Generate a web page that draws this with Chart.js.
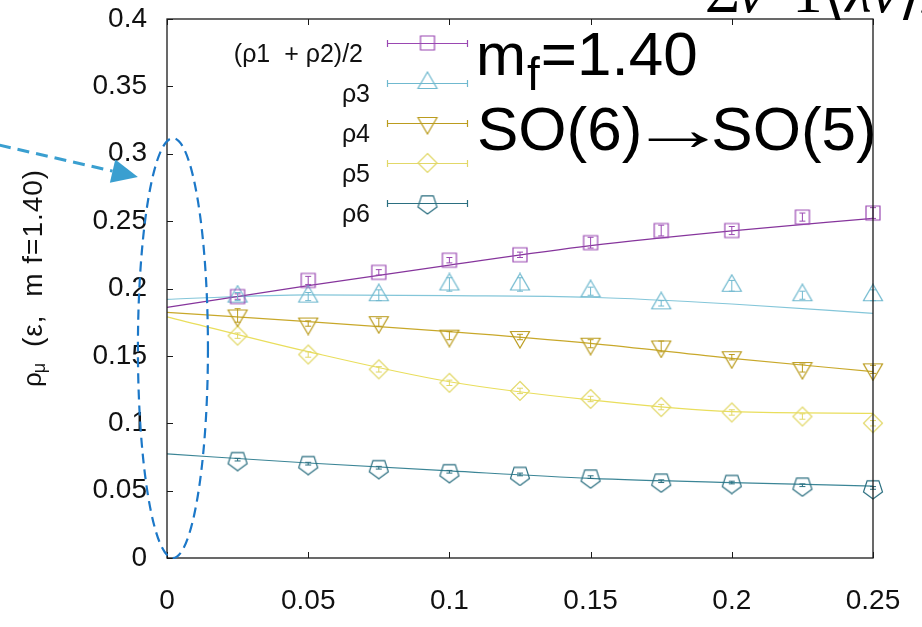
<!DOCTYPE html>
<html>
<head>
<meta charset="utf-8">
<script src="https://cdn.jsdelivr.net/npm/chart.js@4.4.1/dist/chart.umd.min.js"></script>
<style>
  html, body { margin: 0; padding: 0; background: #fff; }
  #wrap { width: 922px; height: 627px; }
</style>
</head>
<body>
<div id="wrap"><canvas id="rhoChart" width="922" height="627"></canvas></div>
<script>
// ---------- Data ----------
const EPS = [0.025, 0.05, 0.075, 0.1, 0.125, 0.15, 0.175, 0.2, 0.225, 0.25];

const RHO12 = [0.194, 0.206, 0.212, 0.221, 0.225, 0.234, 0.243, 0.243, 0.253, 0.256];
const RHO3  = [0.194, 0.194, 0.195, 0.203, 0.203, 0.198, 0.189, 0.202, 0.195, 0.195];
const RHO4  = [0.180, 0.174, 0.175, 0.165, 0.164, 0.159, 0.157, 0.149, 0.141, 0.140];
const RHO5  = [0.165, 0.151, 0.140, 0.130, 0.124, 0.118, 0.112, 0.108, 0.105, 0.100];
const RHO6  = [0.073, 0.070, 0.067, 0.064, 0.062, 0.060, 0.057, 0.056, 0.054, 0.052];

const RHO12_ERR = [0.002, 0.003, 0.002, 0.002, 0.002, 0.004, 0.004, 0.003, 0.003, 0.004];
const RHO3_ERR  = [0.003, 0.003, 0.004, 0.005, 0.005, 0.003, 0.002, 0.004, 0.003, 0.004];
const RHO4_ERR  = [0.005, 0.002, 0.003, 0.003, 0.002, 0.003, 0.004, 0.002, 0.003, 0.003];
const RHO5_ERR  = [0.002, 0.002, 0.002, 0.002, 0.002, 0.002, 0.002, 0.002, 0.002, 0.002];
const RHO6_ERR  = [0.001, 0.001, 0.001, 0.001, 0.001, 0.001, 0.001, 0.001, 0.001, 0.001];

// fitted curves sampled along eps
const FIT_EPS = [0, 0.05, 0.1, 0.15, 0.2, 0.25];
const FIT12 = [0.186, 0.2022, 0.2174, 0.2318, 0.2428, 0.2521];
const FIT3  = [0.192, 0.1952, 0.1947, 0.1935, 0.1885, 0.1816];
const FIT4  = [0.1823, 0.1754, 0.168, 0.1593, 0.1482, 0.1383];
const FIT5  = [0.179, 0.1531, 0.1308, 0.1173, 0.1086, 0.1074];
const FIT6  = [0.0772, 0.0705, 0.0646, 0.0591, 0.0559, 0.0534];

const LABELS = ['(ρ1  + ρ2)/2', 'ρ3', 'ρ4', 'ρ5', 'ρ6'];

const X_MIN = 0, X_MAX = 0.25, X_STEP = 0.05;
const Y_MIN = 0, Y_MAX = 0.4, Y_STEP = 0.05;

const FONT = '"Liberation Sans", Arial, sans-serif';

// ---------- Styles ----------
const SERIES = [
  { label: LABELS[0], pts: RHO12, err: RHO12_ERR, fit: FIT12, shape: 'square',  mark: '#9a48b2', line: '#86359c' },
  { label: LABELS[1], pts: RHO3,  err: RHO3_ERR,  fit: FIT3,  shape: 'triUp',   mark: '#70b9cf', line: '#84c6d9' },
  { label: LABELS[2], pts: RHO4,  err: RHO4_ERR,  fit: FIT4,  shape: 'triDown', mark: '#bb9c1e', line: '#c8a82a' },
  { label: LABELS[3], pts: RHO5,  err: RHO5_ERR,  fit: FIT5,  shape: 'diamond', mark: '#e2d868', line: '#e9de5c' },
  { label: LABELS[4], pts: RHO6,  err: RHO6_ERR,  fit: FIT6,  shape: 'pentagon',mark: '#2b6f80', line: '#3b8596' }
];

// open marker glyphs, drawn once and reused as pointStyle images
function makeMarker(shape, color) {
  const c = document.createElement('canvas');
  c.width = 24; c.height = 24;
  const g = c.getContext('2d');
  g.strokeStyle = color;
  g.lineWidth = 1.2;
  g.beginPath();
  const cx = 12, cy = 12;
  if (shape === 'square') {
    g.rect(cx - 7, cy - 7, 14, 14);
  } else if (shape === 'triUp' || shape === 'triDown') {
    const s = shape === 'triUp' ? 1 : -1;
    const r = 11;
    g.moveTo(cx, cy - s * r);
    g.lineTo(cx + 0.866 * r, cy + s * 0.5 * r);
    g.lineTo(cx - 0.866 * r, cy + s * 0.5 * r);
    g.closePath();
  } else if (shape === 'diamond') {
    g.moveTo(cx, cy - 9.5);
    g.lineTo(cx + 9.5, cy);
    g.lineTo(cx, cy + 9.5);
    g.lineTo(cx - 9.5, cy);
    g.closePath();
  } else if (shape === 'pentagon') {
    // flat top, vertex pointing down
    const r = 10;
    for (let k = 0; k < 5; k++) {
      const a = Math.PI / 2 + k * 2 * Math.PI / 5;
      const px = cx + r * Math.cos(a), py = cy + 1 + r * Math.sin(a);
      if (k === 0) g.moveTo(px, py); else g.lineTo(px, py);
    }
    g.closePath();
  }
  g.stroke();
  return c;
}

SERIES.forEach(s => { s.img = makeMarker(s.shape, s.mark); });

// ---------- Datasets ----------
const datasets = [];
SERIES.forEach((s, i) => {
  datasets.push({
    label: s.label + ' fit',
    data: FIT_EPS.map((x, j) => ({ x, y: s.fit[j] })),
    showLine: true,
    borderColor: s.line,
    borderWidth: 1.2,
    pointRadius: 0,
    cubicInterpolationMode: 'monotone',
    fill: false,
    clip: false,
    order: 10 + i
  });
  datasets.push({
    label: s.label,
    data: EPS.map((x, j) => ({ x, y: s.pts[j] })),
    showLine: false,
    pointStyle: s.img,
    pointRadius: 12,
    clip: false,
    errors: s.err,
    errColor: s.mark,
    order: i
  });
});

// ---------- Plugins ----------
const errorBars = {
  id: 'errorBars',
  afterDatasetsDraw(chart) {
    const { ctx, scales: { x, y } } = chart;
    ctx.save();
    ctx.lineWidth = 1;
    chart.data.datasets.forEach(ds => {
      if (!ds.errors) return;
      ctx.strokeStyle = ds.errColor;
      ds.data.forEach((p, j) => {
        const px = x.getPixelForValue(p.x);
        const y0 = y.getPixelForValue(p.y - ds.errors[j]);
        const y1 = y.getPixelForValue(p.y + ds.errors[j]);
        ctx.beginPath();
        ctx.moveTo(px, y0); ctx.lineTo(px, y1);
        ctx.moveTo(px - 3, y0); ctx.lineTo(px + 3, y0);
        ctx.moveTo(px - 3, y1); ctx.lineTo(px + 3, y1);
        ctx.stroke();
      });
    });
    ctx.restore();
  }
};

// box border with inward ticks on left, bottom and top
const frame = {
  id: 'frame',
  afterDraw(chart) {
    const { ctx, chartArea: a, scales: { x, y } } = chart;
    ctx.save();
    ctx.strokeStyle = '#1a1a1a';
    ctx.lineWidth = 1.3;
    ctx.strokeRect(a.left, a.top, a.right - a.left, a.bottom - a.top);
    ctx.lineWidth = 1;
    ctx.beginPath();
    y.ticks.forEach(t => {
      const py = Math.round(y.getPixelForValue(t.value)) + 0.5;
      ctx.moveTo(a.left, py); ctx.lineTo(a.left + 6, py);
    });
    x.ticks.forEach(t => {
      const px = Math.round(x.getPixelForValue(t.value)) + 0.5;
      ctx.moveTo(px, a.bottom); ctx.lineTo(px, a.bottom - 6);
      ctx.moveTo(px, a.top); ctx.lineTo(px, a.top + 6);
    });
    ctx.stroke();
    ctx.restore();
  }
};

// key in the upper left: label, error-bar sample line, marker
const keyBox = {
  id: 'keyBox',
  afterDraw(chart) {
    const { ctx, chartArea: a } = chart;
    ctx.save();
    const x0 = a.left + 220, x1 = a.left + 301, xm = (x0 + x1) / 2;
    SERIES.forEach((s, i) => {
      const yy = a.top + 24 + i * 40;
      ctx.strokeStyle = s.mark;
      ctx.lineWidth = 1.2;
      ctx.beginPath();
      ctx.moveTo(x0, yy + 0.5); ctx.lineTo(x1, yy + 0.5);
      ctx.moveTo(x0 + 0.5, yy - 3); ctx.lineTo(x0 + 0.5, yy + 4);
      ctx.moveTo(x1 - 0.5, yy - 3); ctx.lineTo(x1 - 0.5, yy + 4);
      ctx.stroke();
      ctx.drawImage(s.img, xm - 12, yy - 12);
      ctx.fillStyle = '#111';
      ctx.font = '25px ' + FONT;
      ctx.textAlign = 'right';
      ctx.textBaseline = 'alphabetic';
      ctx.fillText(s.label, a.left + (i === 0 ? 196 : 203), yy + 19);
    });
    ctx.restore();
  }
};

// rotated y title with subscripts
const yTitle = {
  id: 'yTitle',
  afterDraw(chart) {
    const { ctx } = chart;
    ctx.save();
    ctx.translate(42, 387);
    ctx.rotate(-Math.PI / 2);
    ctx.fillStyle = '#111';
    ctx.textBaseline = 'alphabetic';
    ctx.font = '26px ' + FONT;
    ctx.fillText('ρ', 0, -1);
    const w = ctx.measureText('ρ').width;
    ctx.font = '18px ' + FONT;
    ctx.fillText('μ', w - 1, 3);
    ctx.font = '28px ' + FONT;
    ctx.letterSpacing = '1px';
    ctx.fillText('(ε,  m f=1.40)', 40, 0);
    ctx.restore();
  }
};

// annotations: mass label, symmetry breaking, dashed ellipse at eps -> 0, arrow
const notes = {
  id: 'notes',
  afterDraw(chart) {
    const { ctx, scales: { x, y } } = chart;
    ctx.save();
    ctx.fillStyle = '#000';
    ctx.textBaseline = 'alphabetic';
    ctx.textAlign = 'left';

    ctx.font = '60px ' + FONT;
    let cx = 476;
    ctx.fillText('m', cx, 75);
    cx += ctx.measureText('m').width;
    ctx.font = '46px ' + FONT;
    ctx.fillText('f', cx + 1, 90);
    cx += ctx.measureText('f').width + 2;
    ctx.font = '62px ' + FONT;
    ctx.fillText('=1.40', cx, 75);

    // SO(6) -> SO(5), with the arrow glyph stretched to a full em
    ctx.font = '62px ' + FONT;
    let sx0 = 477;
    ctx.fillText('SO(6)', sx0, 150);
    sx0 += ctx.measureText('SO(6)').width;
    const am = ctx.measureText('→');
    const inkL = am.actualBoundingBoxLeft, inkW = am.actualBoundingBoxLeft + am.actualBoundingBoxRight;
    const k = 61 / inkW;
    ctx.save();
    ctx.translate(sx0 + 5, 150);
    ctx.scale(k, 1);
    ctx.fillText('→', inkL, 0);
    ctx.restore();
    sx0 += 69;
    ctx.fillText('SO(5)', sx0, 150);

    // fragment of the formula above the panel
    ctx.font = '60px "Liberation Serif", serif';
    let fx = 705;
    ctx.fillText('Σ', fx, 12); fx += ctx.measureText('Σ').width;
    ctx.font = 'italic 60px "Liberation Serif", serif';
    ctx.fillText('ν', fx - 2, 12); fx += ctx.measureText('ν').width - 8;
    ctx.font = '60px "Liberation Serif", serif';
    ctx.fillText('=1', fx, 12); fx += ctx.measureText('=1').width;
    ctx.fillText('⟨', fx, 12); fx += ctx.measureText('⟨').width;
    ctx.font = 'italic 60px "Liberation Serif", serif';
    ctx.fillText('λν', fx, 12); fx += ctx.measureText('λν').width;
    ctx.font = '60px "Liberation Serif", serif';
    ctx.fillText('⟩/a', fx, 12);

    // dashed ellipse around the eps -> 0 limit
    const ex = x.getPixelForValue(0.0021), ey = y.getPixelForValue(0.1558);
    const rx = x.getPixelForValue(0.0021 + 0.0124) - ex;
    const ry = ey - y.getPixelForValue(0.1558 + 0.1558);
    ctx.strokeStyle = '#1c78c8';
    ctx.lineWidth = 2.2;
    ctx.setLineDash([10, 6]);
    ctx.beginPath();
    ctx.ellipse(ex, ey, rx, ry, 0, 0, Math.PI * 2);
    ctx.stroke();

    // arrow pointing at the ellipse
    const sx = x.getPixelForValue(-0.0595), sy = y.getPixelForValue(0.3065);
    const tx = x.getPixelForValue(-0.0103), ty = y.getPixelForValue(0.2828);
    const ang = Math.atan2(ty - sy, tx - sx);
    const head = 26, half = 12;
    const bx = tx - head * Math.cos(ang), by = ty - head * Math.sin(ang);
    ctx.strokeStyle = '#3a9fd0';
    ctx.lineWidth = 3;
    ctx.setLineDash([12, 7]);
    ctx.beginPath();
    ctx.moveTo(sx, sy); ctx.lineTo(bx, by);
    ctx.stroke();
    ctx.setLineDash([]);
    ctx.fillStyle = '#3a9fd0';
    ctx.beginPath();
    ctx.moveTo(tx, ty);
    ctx.lineTo(bx - half * Math.sin(ang), by + half * Math.cos(ang));
    ctx.lineTo(bx + half * Math.sin(ang), by - half * Math.cos(ang));
    ctx.closePath();
    ctx.fill();
    ctx.restore();
  }
};

// ---------- Chart ----------
const fmtTick = v => String(+v.toFixed(2));

new Chart(document.getElementById('rhoChart').getContext('2d'), {
  type: 'scatter',
  data: { datasets },
  options: {
    responsive: false,
    animation: false,
    devicePixelRatio: 1,
    layout: { padding: { left: 0, right: 49, top: 19, bottom: 0 } },
    plugins: { legend: { display: false }, tooltip: { enabled: false } },
    scales: {
      x: {
        type: 'linear', min: X_MIN, max: X_MAX,
        grid: { display: false, drawTicks: false },
        border: { display: false },
        ticks: { stepSize: X_STEP, padding: 26, color: '#111', font: { family: FONT, size: 28 }, callback: fmtTick, maxRotation: 0 },
        afterFit(scale) { scale.height = 69; scale.paddingLeft = 0; scale.paddingRight = 0; }
      },
      y: {
        type: 'linear', min: Y_MIN, max: Y_MAX,
        grid: { display: false, drawTicks: false },
        border: { display: false },
        ticks: { stepSize: Y_STEP, padding: 20, color: '#111', font: { family: FONT, size: 28 }, callback: fmtTick },
        afterFit(scale) { scale.width = 167; scale.paddingTop = 0; scale.paddingBottom = 0; }
      }
    }
  },
  plugins: [errorBars, frame, keyBox, yTitle, notes]
});
</script>
</body>
</html>
